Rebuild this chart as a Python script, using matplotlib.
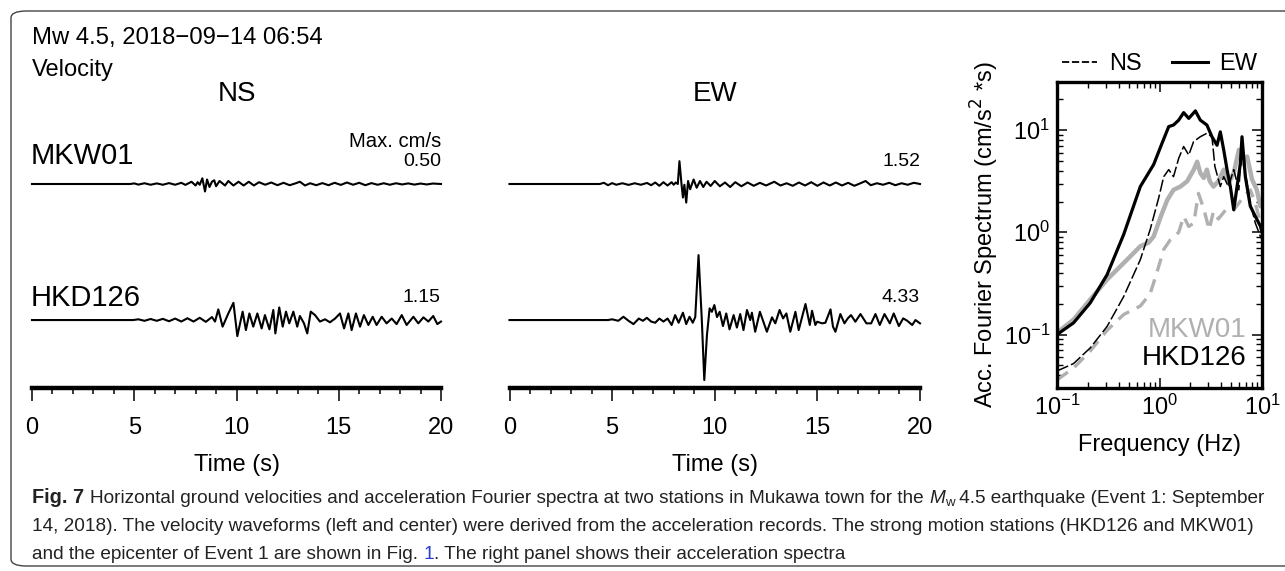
import matplotlib
matplotlib.use('Agg')
import numpy as np
import matplotlib.pyplot as plt
from matplotlib.lines import Line2D
from matplotlib.patches import FancyBboxPatch
from matplotlib.ticker import MultipleLocator, LogLocator, NullFormatter

plt.rcParams['font.family'] = ['Liberation Sans', 'DejaVu Sans']

W, H = 1285, 571

########################## DATA ##########################
# velocity waveforms, cm/s (turning points)
mkw_ns_t = [0, 4.8, 5.0, 5.2, 5.5, 5.8, 6.1, 6.4, 6.7, 7.0, 7.3, 7.5, 7.8, 8.0, 8.1, 8.2, 8.33, 8.46, 8.56,
            8.68, 8.8, 8.91, 9.0, 9.17, 9.44, 9.6, 9.85, 10.1, 10.35, 10.6, 10.85, 11.1, 11.4, 11.7, 12.0,
            12.3, 12.6, 12.9, 13.1, 13.35, 13.6, 13.9, 14.2, 14.5, 14.8, 15.1, 15.4, 15.7, 16.0, 16.3,
            16.6, 16.9, 17.2, 17.5, 17.8, 18.1, 18.4, 18.7, 19.0, 19.3, 19.6, 20.0]
mkw_ns_v = [0, 0, 0.04, -0.04, 0.05, -0.05, 0.04, -0.05, 0.06, -0.05, 0.08, -0.06, 0.15, -0.1, 0.12, -0.05,
            0.38, -0.50, 0.3, -0.2, 0.15, 0.25, -0.15, 0.2, -0.1, 0.2, -0.1, 0.15, -0.1, 0.15, -0.1, 0.12,
            -0.05, 0.1, -0.08, 0.08, -0.08, 0.05, 0.15, -0.1, 0.05, -0.08, 0.06, -0.08, 0.08, -0.06, 0.1,
            -0.05, 0.08, -0.08, 0.06, -0.05, 0.05, -0.05, 0.05, -0.03, 0.04, -0.04, 0.03, -0.03, 0.03, 0.0]

hkd_ns_t = [0, 4.95, 5.2, 5.5, 5.8, 6.1, 6.4, 6.7, 7.0, 7.3, 7.6, 7.9, 8.2, 8.5, 8.8, 8.95, 9.11, 9.32,
            9.6, 9.85, 10.04, 10.3, 10.46, 10.63, 10.82, 11.02, 11.23, 11.39, 11.61, 11.8, 11.9, 12.09,
            12.26, 12.42, 12.58, 12.78, 12.97, 13.1, 13.3, 13.46, 13.63, 13.84, 14.08, 14.33, 14.57,
            14.82, 15.06, 15.26, 15.47, 15.63, 15.84, 16.04, 16.23, 16.45, 16.66, 16.85, 17.1, 17.34,
            17.59, 17.83, 18.08, 18.32, 18.65, 18.89, 19.14, 19.38, 19.62, 19.82, 20.0]
hkd_ns_v = [0, 0, 0.05, -0.05, 0.07, -0.05, 0.08, -0.08, 0.1, -0.1, 0.12, -0.1, 0.15, -0.12, 0.2, -0.1,
            0.71, -0.44, 0.44, 1.15, -1.07, 0.56, -0.67, 0.44, -0.44, 0.44, -0.56, 0.33, -0.62, 0.67,
            -0.89, 0.84, -0.44, 0.56, -0.22, 0.56, -0.44, 0.27, -0.22, -0.89, 0.56, 0.33, -0.1, 0.05,
            -0.15, 0.1, 0.44, -0.56, 0.44, -0.67, 0.44, -0.44, 0.33, -0.33, 0.22, -0.33, 0.22, -0.22,
            0.1, -0.27, 0.33, -0.33, 0.22, -0.22, 0.18, -0.1, 0.27, -0.27, -0.1]

mkw_ew_t = [0, 4.4, 4.6, 4.8, 5.0, 5.2, 5.5, 5.8, 6.1, 6.4, 6.7, 6.9, 7.1, 7.3, 7.5, 7.7, 7.9, 8.0, 8.1,
            8.2, 8.28, 8.38, 8.45, 8.52, 8.61, 8.7, 8.8, 8.97, 9.12, 9.28, 9.44, 9.6, 9.8, 10.0, 10.25,
            10.5, 10.75, 11.0, 11.3, 11.6, 11.9, 12.2, 12.5, 12.9, 13.2, 13.5, 13.8, 14.1, 14.4, 14.7,
            15.0, 15.3, 15.6, 15.9, 16.2, 16.5, 16.8, 17.1, 17.35, 17.6, 17.9, 18.2, 18.5, 18.8, 19.1,
            19.4, 19.7, 20.0]
mkw_ew_v = [0, 0, 0.08, -0.08, 0.06, -0.05, 0.05, -0.06, 0.05, -0.05, 0.07, -0.08, 0.1, -0.12, 0.12,
            -0.1, 0.12, -0.05, 0.1, 0.0, 1.52, 0.0, -0.9, -0.05, -1.24, 0.2, -0.35, 0.3, -0.25, 0.2,
            -0.2, 0.15, -0.13, 0.2, -0.15, 0.1, -0.2, 0.12, -0.15, 0.1, -0.12, 0.08, -0.1, 0.15, -0.1,
            0.05, -0.12, 0.1, -0.1, 0.12, -0.12, 0.1, -0.1, 0.1, -0.1, 0.08, -0.12, 0.05, 0.2, -0.08,
            0.05, -0.05, 0.08, -0.08, 0.05, -0.05, 0.08, 0.0]

hkd_ew_t = [0, 4.8, 5.0, 5.3, 5.55, 5.8, 6.04, 6.3, 6.5, 6.69, 6.9, 7.1, 7.3, 7.5, 7.7, 7.9, 8.07, 8.24,
            8.45, 8.61, 8.77, 8.93, 9.05, 9.21, 9.37, 9.49, 9.62, 9.75, 9.86, 9.98, 10.11, 10.24, 10.4,
            10.56, 10.72, 10.92, 11.08, 11.24, 11.4, 11.57, 11.73, 11.81, 11.97, 12.2, 12.54, 12.79,
            12.95, 13.16, 13.33, 13.49, 13.68, 13.93, 14.09, 14.42, 14.63, 14.74, 14.9, 14.99, 15.23,
            15.39, 15.64, 15.76, 15.88, 16.12, 16.32, 16.48, 16.64, 16.85, 17.1, 17.39, 17.62, 17.83,
            18.04, 18.27, 18.53, 18.72, 18.97, 19.18, 19.37, 19.62, 19.78, 20.0]
hkd_ew_v = [0, 0, 0.05, -0.05, 0.22, -0.05, -0.27, 0.1, -0.05, 0.15, -0.1, -0.18, 0.1, -0.1, 0.1, -0.33,
            0.33, -0.18, 0.49, -0.27, 0.22, -0.18, 0.2, 4.33, 0.0, -4.0, -1.0, 0.78, 0.55, 1.0, 0.2,
            0.55, -0.4, 0.44, -0.62, 0.33, -0.5, 0.4, -0.67, 0.67, 0.0, 0.49, -0.78, 0.55, -0.78, 0.18,
            -0.22, 0.67, 0.11, 0.44, -0.78, 0.55, -0.67, 1.07, -0.33, 0.62, -0.33, -0.11, -0.22, -0.18,
            0.71, -0.44, -0.78, 0.4, -0.22, 0.11, 0.33, -0.11, 0.4, -0.22, -0.22, 0.4, -0.33, 0.4,
            -0.22, 0.44, -0.4, 0.11, -0.04, -0.33, 0.0, -0.22]

max_ns = ['0.50', '1.15']
max_ew = ['1.52', '4.33']
stations = ['MKW01', 'HKD126']

# acceleration Fourier spectra (cm/s^2*s)
hkd_ew_f = [0.1, 0.145, 0.211, 0.308, 0.447, 0.65, 0.877, 1.057, 1.23, 1.37, 1.54, 1.72, 1.93, 2.24,
            2.5, 2.9, 3.25, 3.64, 3.92, 4.23, 4.56, 4.91, 5.3, 5.71, 6.15, 6.38, 6.88, 7.69, 8.61, 9.64, 10]
hkd_ew_a = [0.1, 0.13, 0.204, 0.385, 0.95, 2.8, 4.6, 7.4, 10.8, 11.2, 12.5, 14.8, 13.0, 15.4, 12.5, 11.2,
            8.6, 7.1, 9.6, 6.4, 4.1, 2.8, 1.66, 2.8, 4.7, 8.6, 3.5, 1.8, 1.43, 1.15, 1.0]

hkd_ns_f = [0.1, 0.145, 0.211, 0.308, 0.447, 0.65, 0.81, 0.98, 1.1, 1.23, 1.37, 1.54, 1.72, 1.93, 2.15,
            2.5, 2.9, 3.25, 3.47, 3.92, 4.23, 4.7, 5.3, 5.95, 6.38, 6.88, 7.69, 8.61, 9.64, 10]
hkd_ns_a = [0.044, 0.052, 0.074, 0.12, 0.235, 0.54, 1.06, 2.15, 3.5, 4.1, 3.5, 5.3, 6.9, 5.7, 7.7, 8.6,
            9.3, 8.6, 4.4, 2.8, 3.5, 2.8, 4.1, 2.6, 7.9, 3.8, 1.93, 1.23, 0.91, 0.85]

mkw_ew_f = [0.1, 0.145, 0.211, 0.308, 0.447, 0.65, 0.78, 0.877, 1.03, 1.19, 1.37, 1.6, 1.86, 2.16, 2.33,
            2.5, 2.7, 2.9, 3.1, 3.36, 3.75, 4.23, 4.7, 5.3, 5.95, 6.38, 7.16, 7.98, 8.9, 9.64, 10]
mkw_ew_a = [0.104, 0.14, 0.22, 0.345, 0.5, 0.73, 0.79, 0.91, 1.43, 2.07, 2.6, 2.8, 3.15, 4.1, 4.9, 3.8,
            3.4, 4.1, 3.15, 2.8, 3.15, 4.1, 3.0, 3.8, 6.4, 4.7, 5.5, 3.3, 2.6, 1.8, 2.0]

mkw_ns_f = [0.1, 0.145, 0.211, 0.308, 0.447, 0.65, 0.81, 0.94, 1.1, 1.28, 1.54, 1.72, 1.93, 2.16, 2.4,
            2.72, 3.05, 3.36, 3.75, 4.43, 5.15, 5.95, 6.65, 7.69, 8.61, 9.64]
mkw_ns_a = [0.036, 0.047, 0.069, 0.11, 0.157, 0.19, 0.25, 0.4, 0.68, 0.85, 1.0, 1.43, 1.14, 1.23, 2.4,
            1.66, 1.06, 1.6, 1.35, 1.66, 1.6, 1.93, 2.25, 2.6, 1.93, 1.23]


def fx(x):
    return x / float(W)

def fy(y):
    return 1 - y / float(H)

fig = plt.figure(figsize=(W / 100.0, H / 100.0), dpi=100)

# rounded frame
box = FancyBboxPatch((fx(11), fy(566)), fx(1300) - fx(11), fy(11) - fy(566),
                     boxstyle='round,pad=0,rounding_size=0.012', transform=fig.transFigure,
                     fc='none', ec='#444444', lw=1.0, clip_on=False)
fig.patches.append(box)

offs = [13.6, 4.53]   # trace baselines (cm/s above the time axis)
ymax = 288 / 15.0

############################### WAVEFORMS ################################
panels = [(32, 441, 'NS', [(mkw_ns_t, mkw_ns_v), (hkd_ns_t, hkd_ns_v)], max_ns),
          (509.5, 920, 'EW', [(mkw_ew_t, mkw_ew_v), (hkd_ew_t, hkd_ew_v)], max_ew)]

for x0, x1, comp, traces, maxes in panels:
    ax = fig.add_axes([fx(x0), fy(388), fx(x1) - fx(x0), fy(100) - fy(388)])
    for k, (t, v) in enumerate(traces):
        ax.plot(t, np.array(v) + offs[k], color='k', lw=1.5, clip_on=False)
    ax.set_xlim(0, 20)
    ax.set_ylim(0, ymax)
    for s in ['left', 'right', 'top']:
        ax.spines[s].set_visible(False)
    ax.spines['bottom'].set_linewidth(3.2)
    ax.set_yticks([])
    ax.xaxis.set_major_locator(MultipleLocator(5))
    ax.xaxis.set_minor_locator(MultipleLocator(1))
    ax.tick_params(axis='x', which='major', direction='out', length=9, width=1.1, labelsize=17, pad=12)
    ax.tick_params(axis='x', which='minor', direction='out', length=4.5, width=1.1)
    ax.patch.set_visible(False)
    xc = (x0 + x1) / 2.0
    fig.text(fx(xc), fy(465), 'Time (s)', ha='center', va='center', fontsize=17)
    fig.text(fx(xc), fy(94), comp, ha='center', va='center', fontsize=20)
    fig.text(fx(x1), fy(162), maxes[0], ha='right', va='center', fontsize=14)
    fig.text(fx(x1), fy(298), maxes[1], ha='right', va='center', fontsize=14)

fig.text(fx(32), fy(38), 'Mw 4.5, 2018\u221209\u221214 06:54', ha='left', va='center', fontsize=17.2)
fig.text(fx(32), fy(70), 'Velocity', ha='left', va='center', fontsize=17)
fig.text(fx(441), fy(142), 'Max. cm/s', ha='right', va='center', fontsize=14.6)
fig.text(fx(31), fy(156), stations[0], ha='left', va='center', fontsize=21)
fig.text(fx(31), fy(298), stations[1], ha='left', va='center', fontsize=21)

############################### SPECTRA ################################
gray = '#b0b0b0'
axs = fig.add_axes([fx(1057), fy(388), fx(1262) - fx(1057), fy(82) - fy(388)])
axs.loglog(mkw_ew_f, mkw_ew_a, color=gray, lw=3.2)
axs.loglog(mkw_ns_f, mkw_ns_a, color=gray, lw=2.4, dashes=(4, 2.5))
axs.loglog(hkd_ns_f, hkd_ns_a, color='k', lw=1.1, dashes=(8, 2))
axs.loglog(hkd_ew_f, hkd_ew_a, color='k', lw=2.3)
axs.set_xlim(0.1, 10)
axs.set_ylim(0.03, 29.5)
for s in axs.spines.values():
    s.set_linewidth(2.4)
axs.xaxis.set_minor_locator(LogLocator(base=10, subs=np.arange(2, 10)))
axs.yaxis.set_minor_locator(LogLocator(base=10, subs=np.arange(2, 10)))
axs.xaxis.set_minor_formatter(NullFormatter())
axs.yaxis.set_minor_formatter(NullFormatter())
axs.tick_params(which='both', direction='in', top=True, right=True, labelsize=17)
axs.tick_params(which='major', length=7, width=1.1, pad=5)
axs.tick_params(which='minor', length=4, width=1.0)
axs.set_xlabel('Frequency (Hz)', fontsize=17, labelpad=10)
axs.set_ylabel('Acc. Fourier Spectrum (cm/s$^2$ *s)', fontsize=17, labelpad=2)

fig.text(fx(1246), fy(330), stations[0], color=gray, ha='right', va='center', fontsize=20)
fig.text(fx(1246), fy(358), stations[1], color='k', ha='right', va='center', fontsize=20)

handles = [Line2D([], [], color='k', lw=1.3, dashes=(4, 1.5)),
           Line2D([], [], color='k', lw=2.2)]
axs.legend(handles, ['NS', 'EW'], ncol=2, loc='lower center', bbox_to_anchor=(0.5, 1.0),
           frameon=False, fontsize=17, handlelength=1.5, handletextpad=0.5, columnspacing=1.3,
           borderpad=0.1, borderaxespad=0.2)

############################### CAPTION ################################
cap_font = ['Liberation Sans Narrow', 'Liberation Sans']
cs = 13.7
renderer = fig.canvas.get_renderer()

def write_line(y, pieces):
    x = fx(32)
    for txt, kw in pieces:
        t = fig.text(x, fy(y + kw.get('dy', 0)), txt, ha='left', va='baseline',
                     fontsize=kw.get('size', cs), family=cap_font, color=kw.get('color', '#222222'),
                     weight=kw.get('weight', 'normal'), style=kw.get('style', 'normal'))
        bb = t.get_window_extent(renderer)
        x = x + bb.width / float(W) + kw.get('gap', 0) / float(W)

write_line(503, [('Fig. 7', {'weight': 'bold', 'gap': 6, 'size': cs + 0.6}),
                 ('Horizontal ground velocities and acceleration Fourier spectra at two stations in '
                  'Mukawa town for the ', {}),
                 ('M', {'style': 'italic'}),
                 ('w', {'size': cs * 0.7, 'dy': 3}),
                 (' 4.5 earthquake (Event 1: September', {})])
write_line(531, [('14, 2018). The velocity waveforms (left and center) were derived from the acceleration '
                  'records. The strong motion stations (HKD126 and MKW01)', {})])
write_line(559, [('and the epicenter of Event 1 are shown in Fig. ', {}),
                 ('1', {'color': '#2a3fd0'}),
                 ('. The right panel shows their acceleration spectra', {})])

fig.savefig('out.png', dpi=100)
